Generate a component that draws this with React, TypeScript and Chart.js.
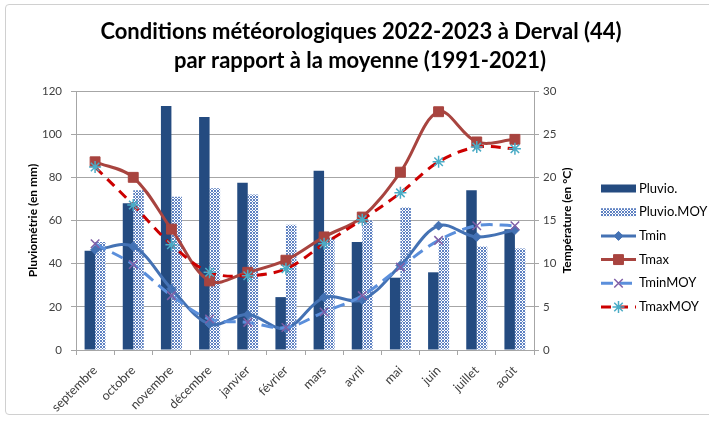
import React, { useEffect, useRef } from 'react';
import { Chart, registerables } from 'chart.js';
import { drawPoint } from 'chart.js/helpers';

Chart.register(...registerables);

const titleLines = [
  'Conditions météorologiques 2022-2023 à Derval (44)',
  'par rapport à la moyenne (1991-2021)',
];
const leftAxisTitle = 'Pluviométrie (en mm)';
const rightAxisTitle = 'Température (en °C)';

const months = ['septembre', 'octobre', 'novembre', 'décembre', 'janvier', 'février', 'mars', 'avril', 'mai', 'juin', 'juillet', 'août'];
const pluvio = [46, 68, 113, 108, 77.5, 24.5, 83, 50, 33.5, 36, 74, 56];
const pluvioMoy = [50, 74, 71, 75, 72, 58, 52, 60, 66, 52, 48, 47];
const tmin = [11.6, 12.0, 7.1, 3.0, 4.1, 2.5, 6.1, 5.8, 9.8, 14.4, 13.1, 13.9];
const tmax = [21.8, 20.0, 14.0, 8.0, 9.0, 10.4, 13.1, 15.4, 20.6, 27.6, 24.1, 24.4];
const tminMoy = [12.3, 9.9, 6.3, 3.6, 3.2, 2.6, 4.4, 6.3, 9.6, 12.7, 14.4, 14.4];
const tmaxMoy = [21.2, 16.8, 12.2, 9.0, 8.6, 9.4, 12.3, 15.1, 18.2, 21.8, 23.5, 23.3];

const leftMin = 0, leftMax = 120, leftStep = 20;
const rightMin = 0, rightMax = 30, rightStep = 5;

const FONT = 'Lato';
const GRID = '#A6A6A6';
const TICK_COLOR = '#404040';

export default function App() {
  const ref = useRef<HTMLCanvasElement>(null);

  useEffect(() => {
    document.body.style.margin = '0';
    const canvas = ref.current!;
    const pc = document.createElement('canvas');
    pc.width = 6; pc.height = 6;
    const p = pc.getContext('2d')!;
    p.fillStyle = '#FFFFFF';
    p.fillRect(0, 0, 6, 6);
    p.fillStyle = '#5F82C2';
    for (let x = 0; x < 6; x++) for (let y = 0; y < 6; y++) {
      if ((x + y) % 3 === 0 || ((x - y) % 3 + 3) % 3 === 0) p.fillRect(x, y, 1, 1);
    }
    const pattern = canvas.getContext('2d')!.createPattern(pc, 'repeat')!;

    Chart.defaults.font.family = FONT;

    const custom = {
      id: 'custom',
      afterDraw(chart: any) {
        const ctx = chart.ctx as CanvasRenderingContext2D;
        const ca = chart.chartArea;
        ctx.save();
        // Title
        ctx.fillStyle = '#000';
        ctx.textAlign = 'center';
        ctx.textBaseline = 'middle';
        ctx.font = `bold 22px ${FONT}`;
        ctx.fillText(titleLines[0], 361, 32);
        ctx.fillText(titleLines[1], 360, 61);
        // Axis titles
        const cy = (ca.top + ca.bottom) / 2;
        ctx.font = `bold 12px ${FONT}`;
        ctx.save();
        ctx.translate(33, cy);
        ctx.rotate(-Math.PI / 2);
        ctx.fillText(leftAxisTitle, 0, 0);
        ctx.restore();
        ctx.save();
        ctx.translate(567, cy);
        ctx.rotate(-Math.PI / 2);
        ctx.fillText(rightAxisTitle, 0, 0);
        ctx.restore();
        // Legend
        chart.data.datasets.forEach((ds: any, i: number) => {
          const y = 188.5 + i * 23.7;
          const x0 = 601, w = 35;
          if (ds.type === 'bar') {
            ctx.fillStyle = ds.backgroundColor;
            ctx.fillRect(x0, y - 4, w, 8);
          } else {
            ctx.strokeStyle = ds.borderColor;
            ctx.lineWidth = ds.borderWidth;
            ctx.setLineDash(ds.borderDash || []);
            ctx.beginPath();
            ctx.moveTo(x0, y);
            ctx.lineTo(x0 + w, y);
            ctx.stroke();
            ctx.setLineDash([]);
            ctx.fillStyle = ds.pointBackgroundColor;
            ctx.strokeStyle = ds.pointBorderColor;
            ctx.lineWidth = ds.pointBorderWidth;
            drawPoint(ctx, { pointStyle: ds.pointStyle, radius: ds.pointRadius, rotation: 0, borderWidth: ds.pointBorderWidth } as any, x0 + w / 2, y);
          }
          ctx.fillStyle = '#000';
          ctx.textAlign = 'left';
          ctx.textBaseline = 'middle';
          ctx.font = `13px ${FONT}`;
          ctx.fillText(ds.label, 639, y);
        });
        ctx.restore();
      },
    };

    const line = (label: string, data: number[], color: string, pColor: string, style: string, radius: number, order: number, dash?: number[], fill = true) => ({
      type: 'line' as const,
      label,
      data,
      yAxisID: 'y1',
      borderColor: color,
      backgroundColor: color,
      borderWidth: 3,
      borderDash: dash,
      pointStyle: style,
      pointRadius: radius,
      pointBackgroundColor: fill ? pColor : 'rgba(0,0,0,0)',
      pointBorderColor: pColor,
      pointBorderWidth: fill ? 1 : 1.5,
      tension: 0.35,
      order,
    });

    const chart = new Chart(canvas, {
      type: 'bar',
      data: {
        labels: months,
        datasets: [
          { type: 'bar', label: 'Pluvio.', data: pluvio, yAxisID: 'y', backgroundColor: '#244B80', categoryPercentage: 0.55, barPercentage: 1, order: 10 } as any,
          { type: 'bar', label: 'Pluvio.MOY', data: pluvioMoy, yAxisID: 'y', backgroundColor: pattern, categoryPercentage: 0.55, barPercentage: 1, order: 10 } as any,
          line('Tmin', tmin, '#4472B4', '#4472B4', 'rectRot', 4.5, 4),
          line('Tmax', tmax, '#A8443F', '#A8443F', 'rect', 7, 3),
          line('TminMOY', tminMoy, '#5B8FDB', '#7F5FA6', 'crossRot', 6, 2, [12, 7], false),
          line('TmaxMOY', tmaxMoy, '#CC0000', '#4BACC6', 'star', 6, 1, [10, 7], false),
        ],
      },
      options: {
        responsive: false,
        animation: false,
        layout: { padding: { top: 91, left: 0, right: 119, bottom: 0 } },
        plugins: { legend: { display: false }, title: { display: false }, tooltip: { enabled: false } },
        scales: {
          x: {
            offset: true,
            grid: { display: true, drawOnChartArea: false, drawTicks: true, tickLength: 5, color: GRID, offset: true },
            border: { color: GRID },
            ticks: { minRotation: 45, maxRotation: 45, autoSkip: false, font: { family: FONT, size: 12.5 }, color: TICK_COLOR, padding: 8 },
            afterFit(s: any) { s.height = 71; s.paddingLeft = 0; s.paddingRight = 0; },
          },
          y: {
            position: 'left',
            min: leftMin, max: leftMax,
            ticks: { stepSize: leftStep, padding: 9, font: { family: FONT, size: 11.5 }, color: TICK_COLOR },
            grid: { color: GRID, tickLength: 5 },
            border: { color: GRID },
            afterFit(s: any) { s.width = 76; s.paddingTop = 0; s.paddingBottom = 0; },
          },
          y1: {
            position: 'right',
            min: rightMin, max: rightMax,
            ticks: { stepSize: rightStep, padding: 4, font: { family: FONT, size: 11.5 }, color: TICK_COLOR },
            grid: { drawOnChartArea: false, tickLength: 5, color: GRID },
            border: { color: GRID },
            afterFit(s: any) { s.width = 56; s.paddingTop = 0; s.paddingBottom = 0; },
          },
        },
      } as any,
      plugins: [custom],
    });
    return () => chart.destroy();
  }, []);

  return (
    <div style={{ position: 'relative', width: 709, height: 421, overflow: 'hidden', background: '#fff' }}>
      <div style={{ position: 'absolute', left: 5, top: 4, width: 720, height: 411, border: '1px solid #D0D0D0', borderRadius: 4, boxSizing: 'border-box' }} />
      <canvas ref={ref} width={709} height={421} style={{ position: 'absolute', left: 0, top: 0 }} />
    </div>
  );
}
